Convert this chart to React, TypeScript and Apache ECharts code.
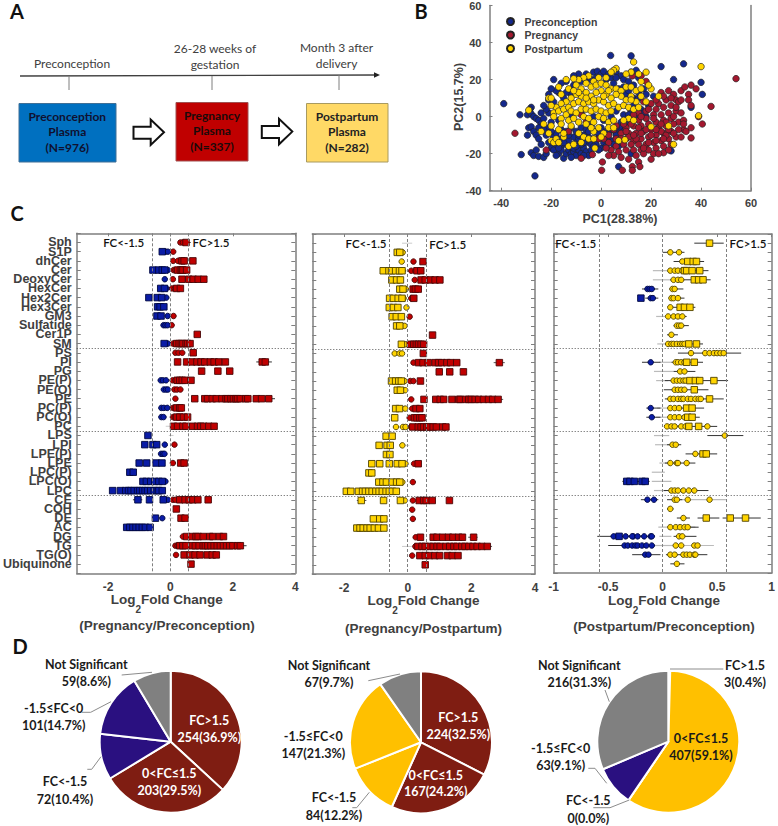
import React, { useEffect, useRef } from "react";
import * as echarts from "echarts";

const categories = ["Sph","S1P","dhCer","Cer","DeoxyCer","HexCer","Hex2Cer","Hex3Cer","GM3","Sulfatide","Cer1P","SM","PS","PI","PG","PE(P)","PE(O)","PE","PC(P)","PC(O)","PC","LPS","LPI","LPE(P)","LPE","LPC(P)","LPC(O)","LPC","CE","COH","DE","AC","DG","TG","TG(O)","Ubiquinone"];
const separators = [11.5, 20.5, 27.5];
const fcCut = 0.585;

type Rows = Record<string, number[]>;

// Panel C, Pregnancy/Preconception
const p1RedSquares: Rows = { Sph:[0.5], dhCer:[0.37,0.44,0.72], Cer:[0.23,0.32,0.37,0.4,0.52], DeoxyCer:[0.37,0.59,0.73,0.89,1.07], HexCer:[0.2,0.32], Cer1P:[0.86], SM:[0.2,0.28,0.35,0.4,0.5,0.55,0.63], PS:[0.73], PI:[0.23,0.52,0.68,0.85,0.98,1.1,1.28,1.4,1.55,1.76,2.94,3.04], PG:[1.0,1.52,1.9], "PE(P)":[0.22,0.3,0.38,0.47,0.66], PE:[0.78,1.1,1.19,1.34,1.47,1.65,1.78,1.84,1.94,2.02,2.1,2.15,2.24,2.41,2.48,2.75,2.92,3.15], "PC(P)":[0.2,0.3,0.35], "PC(O)":[0.2,0.3,0.42,0.55], PC:[0.1,0.23,0.4,0.5,0.71,0.87,0.97,1.07,1.23,1.4], LPE:[0.33,0.44], CE:[0.3,0.47,0.6,0.72,0.88,1.21], COH:[0.19], DE:[0.34,0.47], DG:[0.52,0.68,0.82,0.89,1.05,1.26,1.36,1.57,1.7], TG:[0.3,0.4,0.5,0.7,0.8,0.92,1.05,1.12,1.2,1.3,1.4,1.5,1.6,1.7,1.8,1.9,2.0,2.15,2.24], "TG(O)":[0.44,0.63,0.79,0.95,1.18,1.34,1.47], Ubiquinone:[0.66] };
const p1RedCircles: Rows = { Sph:[0.32,0.4], S1P:[0.09], dhCer:[0.09,0.24], Cer:[0.1,0.16], DeoxyCer:[0.08], HexCer:[0.05,0.14], GM3:[0.1], Sulfatide:[0.04], SM:[0.08,0.16], PS:[0.16,0.26,0.38], "PE(P)":[0.07,0.16], "PE(O)":[0.13,0.21,0.32], PE:[0.16], "PC(P)":[0.08,0.14], "PC(O)":[0.08,0.14], LPI:[0.13], LPE:[0.08], CE:[0.08,0.16], DG:[0.4], TG:[0.16,0.23], "TG(O)":[0.18] };
const p1BlueSquares: Rows = { S1P:[-0.26], Cer:[-0.56,-0.37,-0.26,-0.18], HexCer:[-0.31,-0.19], Hex2Cer:[-0.69,-0.42,-0.28], Hex3Cer:[-0.41,-0.33,-0.21], GM3:[-0.43,-0.3], SM:[-0.2], LPS:[-0.72], LPI:[-0.82,-0.56,-0.44], LPE:[-1.0,-0.76,-0.46,-0.27], "LPC(P)":[-1.3,-1.19], "LPC(O)":[-0.88,-0.77,-0.63,-0.5,-0.37,-0.26], LPC:[-1.85,-1.6,-1.43,-1.34,-1.26,-1.16,-1.05,-0.98,-0.89,-0.81,-0.73,-0.63,-0.52,-0.42,-0.37,-0.26], CE:[-1.04,-0.67,-0.23], DE:[-0.48], AC:[-1.4,-1.3,-1.2,-1.1,-1.0,-0.9,-0.8,-0.65] };
const p1BlueCircles: Rows = { S1P:[-0.16,-0.08], Cer:[-0.08], DeoxyCer:[-0.18], HexCer:[-0.13], Hex2Cer:[-0.13], GM3:[-0.09], Sulfatide:[-0.22,-0.16,-0.09], SM:[-0.08], "PE(P)":[-0.31,-0.24,-0.14], "PE(O)":[-0.21,-0.14,-0.08], "PC(P)":[-0.29,-0.21,-0.1], "PC(O)":[-0.29,-0.22], LPI:[-0.18], "LPE(P)":[-0.3,-0.24,-0.19], "LPC(O)":[-0.16], CE:[-0.08], DE:[-0.26] };

// Panel C, Pregnancy/Postpartum
const p2RedSquares: Rows = { dhCer:[0.48], Cer:[0.29,0.41], DeoxyCer:[0.42,0.55,0.71,0.86,1.01], HexCer:[0.17,0.24,0.33], Hex2Cer:[0.19], Cer1P:[0.78], SM:[0.08,0.19,0.27,0.34,0.42,0.5], PS:[0.49], PI:[0.34,0.48,0.64,0.86,0.97,1.07,1.23,1.35,1.54,2.88], PG:[0.99,1.32,1.75], "PE(P)":[0.4], PE:[0.51,0.88,1.02,1.13,1.39,1.6,1.65,1.82,1.92,2.0,2.12,2.23,2.38,2.54,2.67,2.84], "PC(P)":[0.26,0.38], "PC(O)":[0.21,0.29,0.38,0.45], PC:[0.16,0.33,0.42,0.5,0.6,0.68,0.8,0.9,1.1,1.2], LPE:[0.33], CE:[0.36,0.5,0.58,0.77,1.31], DG:[0.4,0.8,0.92,1.1,1.28,1.42,1.6,1.72,2.07], TG:[0.32,0.45,0.55,0.68,0.8,0.92,1.02,1.2,1.32,1.45,1.55,1.7,1.8,1.92,2.05,2.18,2.33,2.5], "TG(O)":[0.38,0.55,0.68,0.85,1.0,1.25,1.4,1.58], Ubiquinone:[0.55] };
const p2RedCircles: Rows = { dhCer:[0.18], Cer:[0.11,0.24], DeoxyCer:[0.22], Hex2Cer:[0.11], GM3:[0.06], SM:[0.1], PI:[0.18], "PE(P)":[0.08,0.18], PE:[0.11], "PC(P)":[0.14], "PC(O)":[0.06], PC:[0.1], LPE:[0.2], "LPC(O)":[0.16], CE:[0.16], COH:[0.14], DE:[0.16], DG:[0.25], TG:[0.24], "TG(O)":[0.14] };
const p2YellowSquares: Rows = { S1P:[-0.33,-0.25], Cer:[-0.77,-0.59,-0.51,-0.38,-0.26,-0.18], DeoxyCer:[-0.5,-0.35,-0.23], HexCer:[-0.25,-0.15], Hex2Cer:[-0.57,-0.45,-0.3,-0.18], Hex3Cer:[-0.58,-0.45,-0.31], GM3:[-0.49,-0.36,-0.2], Sulfatide:[-0.35,-0.25], SM:[-0.2], "PE(P)":[-0.51,-0.38,-0.28,-0.2], "PE(O)":[-0.33,-0.23], "PC(P)":[-0.38,-0.26], "PC(O)":[-0.41], LPS:[-0.68,-0.49], LPI:[-0.9,-0.65,-0.55], "LPE(P)":[-0.67,-0.56], LPE:[-1.13,-0.88,-0.58,-0.33,-0.18], "LPC(P)":[-1.22,-1.13], "LPC(O)":[-0.91,-0.78,-0.67,-0.49,-0.35,-0.25], LPC:[-1.93,-1.79,-1.55,-1.42,-1.33,-1.22,-1.12,-1.0,-0.9,-0.8,-0.68,-0.58,-0.48,-0.36], CE:[-1.46,-0.76,-0.23], DE:[-1.08,-0.88,-0.75], AC:[-1.6,-1.5,-1.4,-1.28,-1.18,-1.05,-0.92,-0.75] };
const p2YellowCircles: Rows = { S1P:[-0.16], dhCer:[-0.19], Cer:[-0.16], HexCer:[-0.06], Hex2Cer:[-0.13], Hex3Cer:[-0.04], Sulfatide:[-0.1], SM:[-0.08], PS:[-0.41,-0.26,-0.18], "PE(P)":[-0.1], "PE(O)":[-0.08], "PC(P)":[-0.08], PC:[-0.37,-0.15,-0.07], LPI:[-0.17], LPE:[-0.07], "LPC(O)":[-0.17], CE:[-0.09] };

// Panel C, Postpartum/Preconception
const p3YellowSquares: Rows = { Sph:[0.43], dhCer:[0.23,0.28,0.31], Cer:[0.2,0.22,0.27,0.34], DeoxyCer:[0.29,0.33,0.37], Hex3Cer:[0.16,0.2,0.25], SM:[0.24,0.31], PI:[0.22,0.29], "PE(P)":[0.25,0.3,0.34,0.47], "PE(O)":[0.29], PE:[0.43], "PC(P)":[0.22,0.27], "PC(O)":[0.23,0.27], PC:[0.24,0.33], "LPE(P)":[0.37,0.4], DE:[0.4,0.62,0.76] };
const p3YellowCircles: Rows = { S1P:[0.07,0.15], dhCer:[0.18], Cer:[0.07,0.11,0.14,0.18], DeoxyCer:[0.1,0.14,0.17], HexCer:[0.09,0.11], Hex2Cer:[0.08,0.1,0.14], Hex3Cer:[0.07], GM3:[0.05,0.1,0.14,0.18], Sulfatide:[0.13,0.15,0.17], Cer1P:[0.08], SM:[0.05,0.08,0.1,0.13,0.16,0.18,0.2], PS:[0.26,0.39,0.43,0.47,0.5,0.53,0.56], PI:[0.12,0.14,0.17,0.2], PG:[0.16,0.2], "PE(P)":[0.1,0.13,0.16,0.19,0.21], "PE(O)":[0.11,0.14,0.17,0.2], PE:[0.07,0.1,0.14,0.17,0.19,0.23,0.26,0.3,0.33,0.35], "PC(P)":[0.07,0.11,0.15,0.27], "PC(O)":[0.07,0.11,0.15,0.2], PC:[0.04,0.08,0.11,0.17,0.21,0.41], LPS:[0.57], LPI:[0.09,0.12], "LPE(P)":[0.3], LPE:[0.07,0.13,0.14,0.22], LPC:[0.08,0.11,0.14,0.19,0.24,0.29], CE:[0.11,0.13,0.23,0.43], COH:[0.07], DE:[0.19], AC:[0.07,0.12,0.16,0.2,0.23], DG:[0.15,0.18], TG:[0.12,0.17,0.29,0.32], "TG(O)":[0.07,0.11,0.19,0.22,0.25,0.29,0.3], Ubiquinone:[0.13] };
const p3BlueSquares: Rows = { Hex2Cer:[-0.2], "LPC(O)":[-0.33,-0.3,-0.26,-0.19,-0.16], DG:[-0.4] };
const p3BlueCircles: Rows = { HexCer:[-0.14,-0.12,-0.1], Hex2Cer:[-0.11,-0.09], PI:[-0.11], "PC(P)":[-0.11], "PC(O)":[-0.1], CE:[-0.14,-0.08], DG:[-0.45,-0.34,-0.27,-0.28,-0.23,-0.17,-0.11,-0.1], TG:[-0.35,-0.32,-0.28,-0.25,-0.23,-0.19,-0.15,-0.1], "TG(O)":[-0.16,-0.13] };

// [row name, low, high] of the error bars
const p1DarkBars: [string, number, number][] = [["PI",2.75,3.25],["PE",3.1,3.35],["TG",2.1,2.44],["CE",-1.2,-0.9],["Sph",0.25,0.65]];
const p1GreyBars: [string, number, number][] = [["LPS",-0.05,0.1],["PC",-0.15,0.1],["DE",-0.05,0.1]];
const p2DarkBars: [string, number, number][] = [["PI",2.7,3.05],["CE",-1.6,-1.3],["DG",1.9,2.2],["PE",2.7,3.0],["TG",2.3,2.65]];
const p2GreyBars: [string, number, number][] = [["Sph",-0.18,0.14],["TG",-0.18,0.3],["LPI",-0.2,0.05],["Cer",-0.1,0.1],["PC",-0.4,0.05]];
const p3DarkBars: [string, number, number][] = [["Sph",0.29,0.56],["S1P",0.0,0.2],["dhCer",0.1,0.38],["Cer",0.05,0.42],["DeoxyCer",0.07,0.44],["HexCer",-0.19,-0.04],["HexCer",0.06,0.19],["Hex2Cer",-0.16,-0.04],["Hex2Cer",0.06,0.2],["Hex3Cer",0.05,0.3],["GM3",0.03,0.22],["Sulfatide",0.1,0.24],["Cer1P",0.04,0.14],["SM",0.03,0.37],["PS",0.14,0.72],["PI",-0.19,-0.02],["PI",0.08,0.37],["PG",0.1,0.3],["PE(P)",0.02,0.6],["PE(O)",0.01,0.42],["PE",0.02,0.56],["PC(P)",-0.15,-0.02],["PC(P)",0.06,0.38],["PC(O)",-0.15,-0.02],["PC(O)",0.05,0.34],["PC",0.02,0.5],["LPS",0.41,0.74],["LPI",0.04,0.17],["LPE(P)",0.21,0.5],["LPE",0.02,0.3],["LPC(O)",-0.37,-0.12],["LPC",0.01,0.42],["CE",-0.2,-0.04],["CE",0.04,0.18],["COH",0.04,0.1],["DE",0.13,0.25],["DE",0.32,0.52],["DE",0.55,0.9],["AC",0.05,0.33],["DG",-0.6,-0.07],["DG",0.1,0.31],["TG",-0.5,-0.07],["TG(O)",-0.28,-0.02],["TG(O)",0.03,0.41],["Ubiquinone",0.07,0.2]];
const p3GreyBars: [string, number, number][] = [["Cer",-0.09,0.1],["DeoxyCer",-0.09,0.1],["GM3",-0.06,0.04],["SM",-0.05,0.06],["PI",-0.03,0.08],["PG",-0.08,0.1],["PE(P)",-0.06,0.05],["PC(P)",-0.05,0.08],["PC(O)",-0.06,0.06],["LPS",-0.08,0.06],["LPI",-0.07,0.06],["LPE",-0.03,0.05],["LPC(P)",-0.1,0.02],["LPC(O)",-0.1,0.08],["LPC",-0.08,0.03],["CE",0.1,0.58],["AC",-0.04,0.3],["DG",-0.03,0.08],["TG",0.05,0.47],["TG",-0.1,0.1]];

// Panel B
const pcaBlue: number[][] = [[-39,7],[-32.5,1],[-32,-20.5],[-26.5,-32],[3.8,33],[12,32.8],[24,27],[33,28.5],[29,20],[40,18.5],[40.5,12],[36,5],[28,-18.5],[7,-27],[12,-20],[-28,5],[-28.5,4],[-29.5,1],[-28,1.5],[-27,0],[-26,-1],[-25,-2],[-29,-6],[-28,-5.5],[-29.5,-10],[-27,-8],[-26,-10],[-25,-12],[-24,-4],[-23,-1],[-21,-6],[-21,2],[-22,4],[-20,-3],[-25,-6],[-22,-10],[-28,-19.5],[-27,-21],[-25,-21.5],[-26,-18],[-23,-22],[-22,-20],[-21,-14],[-20,-17],[-19,-18],[-24,-15],[-17,-20],[-15,-22.5],[-14,-20],[-13,-18],[-12,-20],[-11,-19],[-10,-21],[-9,-18],[-8,-20],[-7,-17],[-6,-19],[-5,-21],[-4,-18],[-18,-15],[-16,-16],[-14,-15],[-12,-16],[-10,-14],[-8,-15],[-6,-14],[-4,-15],[-2,-15],[0,-17],[1,-14],[-19,-11],[-17,-12],[-15,-11],[-13,-13],[-11,-11],[-9,-12],[-7,-10],[-5,-11],[-3,-12],[-1,-11],[1,-10],[3,-12],[5,-13],[-16,-7],[-14,-8],[-12,-6],[-10,-8],[-8,-6],[-6,-7],[-4,-5],[-2,-8],[0,-6],[2,-8],[4,-7],[6,-9],[8,-7],[10,-4],[-3,0],[-8,2],[-12,1],[-17,-2],[1,-2],[4,0],[6,3],[9,1],[-19,20],[-14,19],[-9,23],[-7,20],[-5,21],[-3,24],[-1.5,24.5],[0,23],[1,24.5],[4,21],[6,24],[8,22],[9,20],[11,19],[12,24],[14,25],[15,21],[-17,13],[-21,12],[-18,14],[-12,12],[-15,10],[-21,9],[-19,8],[-11,17],[-8,19],[-14,13],[-4,20],[2,20],[5,18],[7,15],[10,12],[13,10],[15,10],[17,15],[18,12],[19,6],[16,4],[12,3],[14,-1],[10,-3],[8,-6],[6,-10],[5,-15],[7,-16],[9,-8],[17,2],[13,17],[11,14],[18,0],[21,11],[-16,-18],[-11,-17],[-7,-14],[-3,-16],[-18,-9],[-13,-10],[-9,-10],[-5,-8],[-1,-9],[3,-9],[-15,-14],[-20,-8],[-23,-7],[-17,-17],[-10,-16],[-12,-22],[-18,-21],[-7,-21],[-1,-18],[2,-16],[6,-6],[8,-3],[11,1],[13,6],[15,13],[9,16],[6,21],[3,23],[-2,21],[-6,23],[-11,22],[-16,18],[-20,15],[-23,6],[-24,2]];
const pcaRed: number[][] = [[54,20.5],[44,5.5],[40.5,-4],[39,0],[38,15],[36,17],[35,12],[35,9],[36,6],[32,14],[33.5,16],[-34.5,-9],[-22,-18],[-3.5,-20.5],[-8,-22.5],[0.5,-24.5],[0.2,-29],[8.5,-29],[12.5,-27],[12.5,-29],[15,-24.5],[15.5,-27],[20,-23],[25,-19.5],[36,-11.5],[33,-7],[34,-8],[36,-6],[31,-3],[12.5,22],[16,22],[18,19],[24,13],[27,14],[29,12],[30,9],[26,9],[23,7],[20,7],[17,8],[22,4],[25,5],[28,6],[31,8],[27,2],[24,1],[21,1],[18,-1],[15,-2],[12,-1],[30,3],[32,2],[28,-1],[25,-2],[22,-3],[19,-4],[16,-5],[13,-5],[10,-6],[8,-9],[29,-4],[26,-5],[23,-6],[20,-7],[17,-8],[14,-9],[11,-9],[31,-7],[28,-8],[25,-9],[22,-10],[19,-11],[16,-12],[13,-13],[10,-12],[6,-12],[3,-14],[1,-12],[30,-11],[27,-12],[24,-13],[21,-14],[18,-15],[15,-15],[12,-15],[9,-15],[6,-16],[28,-15],[25,-16],[22,-17],[19,-18],[16,-18],[13,-18],[10,-18],[7,-19],[4,-18],[2,-17],[5,-21],[8,-22],[3,-21],[21,-20],[17,-20],[14,-21],[11,-23],[26,-3],[29,0],[33,-2],[21,-1],[18,3],[15,2],[12,-4],[24,-8],[18,-7],[15,-6],[20,-10],[22,-13],[26,-10],[29,-9],[32,-11],[14,-12],[11,-11],[17,-17],[23,-20],[8,-12],[5,-7],[-8,1],[-6,-3],[-13,-8],[-1,-12],[6,-5],[3,-10],[27,-18],[33,-4],[24,-4],[30,5],[22,9],[19,4],[25,11],[28,10],[32,9],[13,1],[16,0],[10,-8],[13,-10],[16,-9],[19,-14],[25,-12],[22,-7],[27,-7],[9,-4]];
const pcaYellow: number[][] = [[40,27],[13,29.5],[39,0.5],[29,-15],[27,-5],[20,-5.5],[9.5,-12.5],[-2.5,-17],[7,-13],[23,11],[20,15],[19,17],[18,24],[15,23],[16,19],[12,24],[10,23],[6,26],[5,25],[4,24],[2,21],[-1,21],[-3,19],[-5,22],[-7,21],[-9,20],[-11,20.5],[-14,20],[-17,16],[-13,15],[-10,17],[-8,15],[-6,18],[-4,16],[-2,17],[0,18],[2,17],[4,15],[6,15],[8,14],[10,16],[12,16],[14,14],[16,11],[18,8],[14,8],[12,11],[10,9],[8,11],[6,12],[4,10],[2,12],[0,14],[-2,13],[-4,11],[-6,13],[-8,11],[-10,12],[-12,10],[-14,8],[-16,7],[-18,5],[-20,6],[-21,10],[-20,10],[-19,2],[-17,3],[-15,4],[-13,5],[-11,7],[-9,8],[-7,7],[-5,8],[-3,7],[-1,9],[1,8],[3,6],[5,7],[7,5],[9,6],[11,5],[13,4],[15,5],[-14,1],[-12,3],[-10,2],[-8,4],[-6,4],[-4,3],[-2,4],[0,3],[2,2],[4,3],[-16,-1],[-13,-2],[-11,-1],[-9,-3],[-7,0],[-5,-1],[-3,-3],[-1,0],[1,-1],[3,-3],[5,-2],[11,-1],[13,-2],[-29,3.5],[-19,0],[-23,-4],[-24,-8],[-21,-9],[-20,-5],[-17,-7],[-16,-4],[-20,-13],[-19,-14],[-18,-12],[-17,-14],[-15,-11],[-13,-16],[-11,-15],[-9,-9],[-7,-11],[-5,-12],[-3,-8],[-1,-6],[1,-9],[-4,-6],[-6,-4],[3,-6],[0,-11],[-15,-9],[5,-6],[9,-2],[-12,-5],[-8,-14],[-3,-12],[12,9],[16,15],[-9,13],[-6,10],[-3,9],[3,14],[1,11],[-11,14],[-16,12]];

// Panel D
const pieNames = ["FC>1.5","0<FC\u22641.5","FC<-1.5","-1.5\u2264FC<0","Not Significant"];
const pie1Counts = [254,203,72,101,59];
const pie2Counts = [224,167,84,147,67];
const pie3Counts = [3,407,0,63,216];
const pie1Percents = ["36.9","29.5","10.4","14.7","8.6"];
const pie2Percents = ["32.5","24.2","12.2","21.3","9.7"];
const pie3Percents = ["0.4","59.1","0.0","9.1","31.3"];

const SANS = "Liberation Sans";
const CAL = "Lato";
const GREY = "#404040";
const FRAME = "#7f7f7f";
const RED = "#c00000";
const BLUE = "#0a1ca6";
const YEL = "#ffd400";

const flat = (r: Rows) => Object.entries(r).flatMap(([k, xs]) => xs.map((x) => [x, categories.indexOf(k)]));
const marks = (name: string, xi: number, yi: number, r: Rows, symbol: string, color: string, border: string) => ({
  type: "scatter", name, xAxisIndex: xi, yAxisIndex: yi, symbol, symbolSize: symbol === "rect" ? 6.5 : 5.5,
  silent: true, z: symbol === "rect" ? 4 : 3,
  itemStyle: { color, borderColor: border, borderWidth: 0.9, opacity: 1 }, data: flat(r),
});
const bars = (name: string, xi: number, yi: number, list: [string, number, number][], color: string, width: number) => ({
  type: "custom", name, xAxisIndex: xi, yAxisIndex: yi, silent: true, z: 2,
  encode: { x: [0, 1], y: 2 },
  data: list.map(([k, lo, hi]) => [lo, hi, categories.indexOf(k)]),
  renderItem: (_: any, api: any) => {
    const a = api.coord([api.value(0), api.value(2)]);
    const b = api.coord([api.value(1), api.value(2)]);
    return { type: "line", shape: { x1: a[0], y1: a[1], x2: b[0], y2: b[1] }, style: { stroke: color, lineWidth: width } };
  },
});
const refs = (xi: number, yi: number) => ({
  type: "line", name: "refs" + xi, xAxisIndex: xi, yAxisIndex: yi, data: [], silent: true, z: 1,
  markLine: {
    silent: true, symbol: "none", label: { show: false }, animation: false,
    data: [
      ...[-fcCut, 0, fcCut].map((v) => ({ xAxis: v, lineStyle: { type: [3, 2], color: "#808080", width: 1 } })),
      ...separators.map((v) => ({ yAxis: v, lineStyle: { type: [1, 2], color: "#555", width: 1 } })),
    ],
  },
});

const panelAxes = (grid: number, min: number, max: number, ticks: number[], showCats: boolean) => ({
  x: [
    { type: "value", gridIndex: grid, min, max, position: "bottom", splitLine: { show: false },
      axisLine: { show: true, onZero: false, lineStyle: { color: FRAME, width: 1.5 } }, axisTick: { show: false },
      axisLabel: { customValues: ticks, margin: 8, formatter: (v: number) => String(v), fontFamily: SANS, fontWeight: "bold", fontSize: 12, color: GREY } },
    { type: "value", gridIndex: grid, min, max, position: "top", splitLine: { show: false },
      axisLine: { show: true, onZero: false, lineStyle: { color: FRAME, width: 1.5 } },
      axisTick: { show: true, inside: true, length: 3, customValues: ticks, lineStyle: { color: FRAME } }, axisLabel: { show: false } },
  ],
  y: [
    { type: "category", gridIndex: grid, inverse: true, boundaryGap: false, position: "left", data: ["", ...categories, ""], splitLine: { show: false },
      axisLine: { show: true, onZero: false, lineStyle: { color: FRAME, width: 1.5 } },
      axisTick: { show: true, inside: true, length: 4, interval: 0, lineStyle: { color: FRAME } },
      axisLabel: { show: showCats, interval: 0, margin: 5, fontFamily: SANS, fontWeight: "bold", fontSize: 12.5, color: GREY } },
    { type: "value", gridIndex: grid, inverse: true, min: -1, max: 36, interval: 1, position: "right", splitLine: { show: false },
      axisLine: { show: true, onZero: false, lineStyle: { color: FRAME, width: 1.5 } },
      axisTick: { show: true, inside: true, length: 4, lineStyle: { color: FRAME } }, axisLabel: { show: false } },
  ],
});

const txt = (text: string, x: number, y: number, font: string, fill = "#1a1a1a", align = "center") => ({
  type: "text", x, y, silent: true, z: 20, style: { text, x: 0, y: 0, font, fill, align, verticalAlign: "middle" },
});
const seg = (points: number[][], stroke = "#8c8c8c", lineWidth = 1) => ({
  type: "polyline", silent: true, z: 15, shape: { points }, style: { stroke, lineWidth, fill: "none" },
});
const box = (x: number, y: number, w: number, h: number, fill: string, stroke: string) => ({
  type: "rect", silent: true, z: 10, shape: { x, y, width: w, height: h }, style: { fill, stroke, lineWidth: 1 },
});
const arrow = (dx: number, dy: number) => ({
  type: "polygon", silent: true, z: 10, x: dx, y: dy,
  shape: { points: [[133.5,126.7],[150.7,126.7],[150.7,119.5],[164,132.3],[150.7,145],[150.7,138.7],[133.5,138.7]] },
  style: { fill: "#fff", stroke: "#111", lineWidth: 2 },
});
const logTitle = (cx: number, y: number) => ({
  type: "text", x: cx, y, silent: true, z: 20,
  style: {
    text: "{a|Log}{s|2}{a|Fold Change}", x: 0, y: 0, align: "center", verticalAlign: "middle",
    rich: {
      a: { fontFamily: SANS, fontWeight: "bold", fontSize: 13.5, fill: GREY, color: GREY, lineHeight: 22, verticalAlign: "top" },
      s: { fontFamily: SANS, fontWeight: "bold", fontSize: 10, fill: GREY, color: GREY, lineHeight: 22, verticalAlign: "bottom" },
    },
  },
});
const B13 = `bold 13.5px "${SANS}"`;
const CB = `bold 12.5px ${CAL}`;
const CM = `600 11.5px ${CAL}`;
const CR = `12px ${CAL}`;
const BOXF = `bold 12px ${CAL}`;
const pieLabel = (i: number, counts: number[], pct: string[], x: number, y1: number, y2: number, fill = "#1a1a1a") => [
  txt(pieNames[i], x, y1, CB, fill),
  txt(`${counts[i]}(${pct[i]}%)`, x, y2, CB, fill),
];
const pieSeries = (name: string, counts: number[], cx: number, cy: number, colors: string[]) => ({
  type: "pie", name, center: [cx, cy], radius: 71, startAngle: 90, clockwise: true, silent: true, z: 5,
  label: { show: false }, labelLine: { show: false },
  itemStyle: { borderColor: "#fff", borderWidth: 2 },
  data: counts.map((value, i) => ({ name: pieNames[i], value, itemStyle: { color: colors[i] } })),
});
const pca = (name: string, data: number[][], color: string, z: number) => ({
  type: "scatter", name, xAxisIndex: 0, yAxisIndex: 0, data, symbolSize: 6.5, silent: true, z,
  itemStyle: { color, borderColor: "#222", borderWidth: 0.7, opacity: 1 },
});

export default function App() {
  const ref = useRef<HTMLDivElement>(null);
  useEffect(() => {
    const chart = echarts.init(ref.current!, undefined, { renderer: "svg" });
    const p1 = panelAxes(1, -3, 4, [-2, 0, 2, 4], true);
    const p2 = panelAxes(2, -3, 4, [-2, 0, 2, 4], false);
    const p3 = panelAxes(3, -1, 1, [-1, -0.5, 0, 0.5, 1], false);
    const DR = "#4a0808", DB = "#000840", DY = "#4f4200";
    const PIE_RED = "#7f1d12", PIE_NAVY = "#2a1080", PIE_GREY = "#808080", PIE_YEL = "#ffc000";
    chart.setOption({
      animation: false,
      backgroundColor: "#fff",
      legend: {
        data: ["Preconception", "Pregnancy", "Postpartum"], orient: "vertical", left: 501, top: 11,
        itemWidth: 14, itemHeight: 7, itemGap: 2.5, selectedMode: false,
        textStyle: { fontFamily: SANS, fontWeight: "bold", fontSize: 10.5, color: GREY, padding: [0, 0, 0, 2] },
      },
      grid: [
        { left: 489.5, top: 4.3, width: 261.5, height: 186.4 },
        { left: 73, top: 233.3, width: 222.3, height: 340 },
        { left: 312.3, top: 234, width: 222.7, height: 340 },
        { left: 553.7, top: 234, width: 221.3, height: 339 },
      ],
      xAxis: [
        { type: "value", gridIndex: 0, min: -44.7, max: 60, position: "bottom", splitLine: { show: false },
          axisLine: { show: true, onZero: false, lineStyle: { color: FRAME, width: 1.5 } },
          axisTick: { show: true, inside: true, length: 3, customValues: [-40,-20,0,20,40,60], lineStyle: { color: FRAME } },
          axisLabel: { customValues: [-40,-20,0,20,40,60], margin: 7, formatter: (v: number) => String(v), fontFamily: SANS, fontWeight: "bold", fontSize: 11, color: GREY } },
        ...p1.x, ...p2.x, ...p3.x,
      ],
      yAxis: [
        { type: "value", gridIndex: 0, min: -40, max: 60, interval: 20, position: "left", splitLine: { show: false },
          axisLine: { show: true, onZero: false, lineStyle: { color: FRAME, width: 1.5 } },
          axisTick: { show: true, inside: true, length: 3, lineStyle: { color: FRAME } },
          axisLabel: { margin: 8, fontFamily: SANS, fontWeight: "bold", fontSize: 11, color: GREY } },
        { type: "value", gridIndex: 0, min: -40, max: 60, interval: 20, position: "right", splitLine: { show: false },
          axisLine: { show: true, onZero: false, lineStyle: { color: FRAME, width: 1.5 } }, axisTick: { show: false }, axisLabel: { show: false } },
        ...p1.y, ...p2.y, ...p3.y,
      ],
      series: [
        pca("Preconception", pcaBlue, "#14288c", 3),
        pca("Pregnancy", pcaRed, "#a3182f", 4),
        pca("Postpartum", pcaYellow, "#ffd400", 5),

        refs(1, 3),
        bars("p1 dark bars", 1, 3, p1DarkBars, "#333", 1),
        bars("p1 grey bars", 1, 3, p1GreyBars, "#ccc", 1),
        marks("p1 red squares", 1, 3, p1RedSquares, "rect", RED, DR),
        marks("p1 red circles", 1, 3, p1RedCircles, "circle", RED, DR),
        marks("p1 blue squares", 1, 3, p1BlueSquares, "rect", BLUE, DB),
        marks("p1 blue circles", 1, 3, p1BlueCircles, "circle", BLUE, DB),

        refs(3, 5),
        bars("p2 dark bars", 3, 5, p2DarkBars, "#555", 1),
        bars("p2 grey bars", 3, 5, p2GreyBars, "#ccc", 1),
        marks("p2 red squares", 3, 5, p2RedSquares, "rect", RED, DR),
        marks("p2 red circles", 3, 5, p2RedCircles, "circle", RED, DR),
        marks("p2 yellow squares", 3, 5, p2YellowSquares, "rect", YEL, DY),
        marks("p2 yellow circles", 3, 5, p2YellowCircles, "circle", YEL, DY),

        refs(5, 7),
        bars("p3 grey bars", 5, 7, p3GreyBars, "#bbb", 1.2),
        bars("p3 dark bars", 5, 7, p3DarkBars, "#333", 1),
        marks("p3 blue squares", 5, 7, p3BlueSquares, "rect", BLUE, DB),
        marks("p3 blue circles", 5, 7, p3BlueCircles, "circle", BLUE, DB),
        marks("p3 yellow squares", 5, 7, p3YellowSquares, "rect", YEL, DY),
        marks("p3 yellow circles", 5, 7, p3YellowCircles, "circle", YEL, DY),

        pieSeries("pie1", pie1Counts, 170.7, 741.7, [PIE_RED, PIE_RED, PIE_NAVY, PIE_NAVY, PIE_GREY]),
        pieSeries("pie2", pie2Counts, 421, 742.3, [PIE_RED, PIE_RED, PIE_YEL, PIE_YEL, PIE_GREY]),
        pieSeries("pie3", pie3Counts, 668.3, 741.7, [PIE_YEL, PIE_YEL, PIE_NAVY, PIE_NAVY, PIE_GREY]),
      ],
      graphic: [
        txt("A", 17, 11, `bold 20px ${CAL}`, "#111"),
        txt("B", 421, 11, `bold 20px ${CAL}`, "#111"),
        txt("C", 17, 213, `bold 20px ${CAL}`, "#111"),
        txt("D", 20, 646, `bold 20px ${CAL}`, "#111"),

        seg([[20, 76], [375, 75]], "#404040", 1.3),
        { type: "polygon", silent: true, z: 15, shape: { points: [[374, 72.3], [380, 75], [374, 77.7]] }, style: { fill: "#222" } },
        seg([[69, 76], [69, 90]], "#7f7f7f"), seg([[212, 76], [212, 90]], "#7f7f7f"), seg([[339, 75], [339, 90]], "#7f7f7f"),
        txt("Preconception", 72, 63, CR, "#404040"),
        txt("26-28 weeks of", 215, 48, CR, "#404040"), txt("gestation", 215, 64, CR, "#404040"),
        txt("Month 3 after", 336.5, 47, CR, "#404040"), txt("delivery", 336.5, 63, CR, "#404040"),
        box(19, 103.5, 97, 58.5, "#0070c0", "#3f6f96"),
        box(176, 102.5, 72, 58.5, "#c00000", "#a05050"),
        box(306.5, 103.5, 81.5, 58.5, "#ffd966", "#a89a60"),
        arrow(0, 0), arrow(128.3, -0.7),
        txt("Preconception", 67.3, 116, BOXF, "#101030"), txt("Plasma", 67.3, 131.5, BOXF, "#101030"), txt("(N=976)", 67.3, 147, BOXF, "#101030"),
        txt("Pregnancy", 212, 115, BOXF, "#1a0a0a"), txt("Plasma", 212, 130, BOXF, "#1a0a0a"), txt("(N=337)", 212, 146, BOXF, "#1a0a0a"),
        txt("Postpartum", 347, 116, BOXF, "#222"), txt("Plasma", 347, 131.5, BOXF, "#222"), txt("(N=282)", 347, 147, BOXF, "#222"),

        txt("PC1(28.38%)", 620, 219, `bold 12.5px "${SANS}"`, GREY),
        { ...txt("PC2(15.7%)", 459, 97, `bold 12.5px "${SANS}"`, GREY), rotation: Math.PI / 2 },

        txt("FC<-1.5", 123.7, 242, CM, "#111"), txt("FC>1.5", 211, 242, CM, "#111"),
        txt("FC<-1.5", 366, 243, CM, "#111"), txt("FC>1.5", 447.7, 244, CM, "#111"),
        txt("FC<-1.5", 575.7, 243, CM, "#111"), txt("FC>1.5", 748, 243, CM, "#111"),

        logTitle(166.7, 603), txt("(Pregnancy/Preconception)", 167, 625, B13, GREY),
        logTitle(423.5, 604), txt("(Pregnancy/Postpartum)", 423.5, 628, B13, GREY),
        logTitle(664, 604), txt("(Postpartum/Preconception)", 664, 626, B13, GREY),

        seg([[121.7, 675], [152, 672.3]]), seg([[81.7, 712.3], [90.7, 712.3], [111, 701.7]]), seg([[87.3, 769.3], [91.7, 769.3], [101, 756.7]]),
        ...pieLabel(4, pie1Counts, pie1Percents, 86.3, 664.3, 681.7),
        ...pieLabel(3, pie1Counts, pie1Percents, 53.7, 708.3, 725),
        ...pieLabel(2, pie1Counts, pie1Percents, 65, 781.7, 799),
        ...pieLabel(0, pie1Counts, pie1Percents, 209.3, 720, 737.7, "#fff"),
        ...pieLabel(1, pie1Counts, pie1Percents, 169.3, 773.3, 790, "#fff"),

        seg([[368.3, 680.7], [400, 674]]), seg([[352.3, 807.7], [356.7, 807.7], [369.3, 792.3]]),
        ...pieLabel(4, pie2Counts, pie2Percents, 329, 665, 682.3),
        ...pieLabel(3, pie2Counts, pie2Percents, 313.3, 736.7, 753.3),
        ...pieLabel(2, pie2Counts, pie2Percents, 334, 797.7, 815),
        ...pieLabel(0, pie2Counts, pie2Percents, 458.3, 717.3, 734, "#fff"),
        ...pieLabel(1, pie2Counts, pie2Percents, 435.7, 775, 791.7, "#fff"),

        seg([[605, 690], [609.3, 701.7]]), seg([[723.3, 669], [670, 669]]), seg([[588.3, 768.3], [595, 768.3], [606.7, 783.3]]), seg([[593.3, 807.7], [610, 807.7], [629.3, 800]]),
        ...pieLabel(4, pie3Counts, pie3Percents, 579.3, 665.7, 682.7),
        ...pieLabel(0, pie3Counts, pie3Percents, 745, 665, 682.3),
        ...pieLabel(3, pie3Counts, pie3Percents, 560.7, 748.3, 765),
        ...pieLabel(2, pie3Counts, pie3Percents, 588.3, 800.7, 818.3),
        ...pieLabel(1, pie3Counts, pie3Percents, 701, 738.3, 755.7),
      ],
    });
    return () => chart.dispose();
  }, []);
  return <div ref={ref} style={{ position: "absolute", left: 0, top: 0, width: 778, height: 826 }} />;
}
